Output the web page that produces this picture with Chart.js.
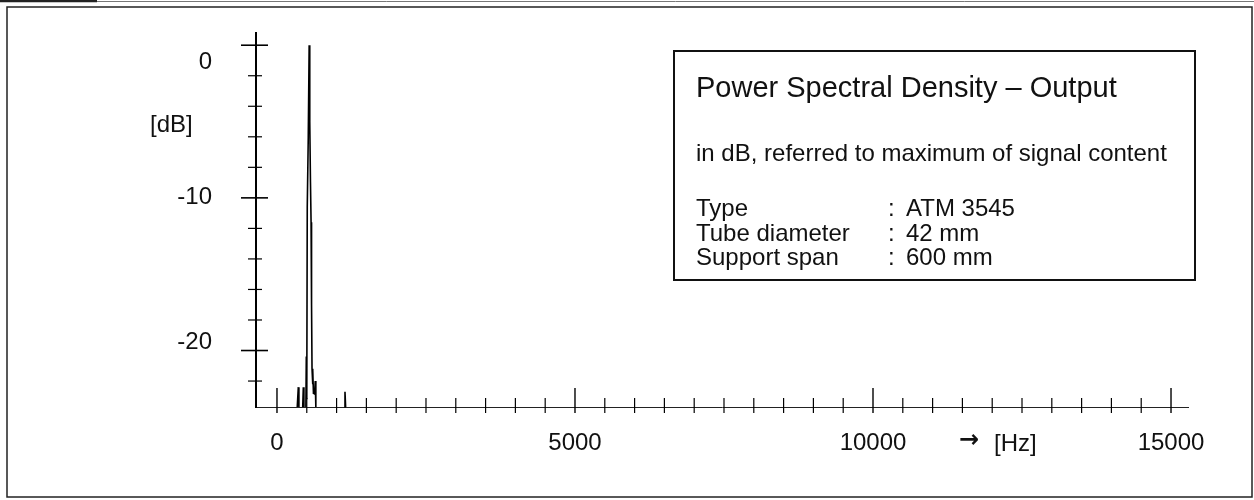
<!DOCTYPE html>
<html>
<head>
<meta charset="utf-8">
<script src="https://cdn.jsdelivr.net/npm/chart.js@4.4.0/dist/chart.umd.min.js"></script>
<style>
  html, body { margin: 0; padding: 0; background: #fff; }
  canvas { display: block; }
</style>
</head>
<body>
<canvas id="psdChart" width="1254" height="500"></canvas>
<script>
// Spectrum (Hz / dB); null breaks the trace between spikes
const freqHz = [340, 358, 368, 400, 432, 442, 452, 470, 485, 492, 500, 508, 525, 540, 550, 562, 572, 580, 588, 596, 604, 612, 620, 630, 642, 652, 700, 1130, 1141, 1152];
const psdDb  = [-23.7, -22.4, -23.7, null, -23.7, -22.4, -23.7, null, -23.7, -20.4, -23.2, -10.6, -6.0, 0, -5.0, -9.0, -11.6, -17.0, -21.2, -22.2, -21.3, -22.8, -22.5, -22.9, -22.0, -23.7, null, -23.7, -22.7, -23.7];

const yMajorTicks = [0, -10, -20];
const yMinorTicks = [-2, -4, -6, -8, -12, -14, -16, -18, -22];
const xMajorTicks = [0, 5000, 10000, 15000];
const xMinorTicks = [500, 1000, 1500, 2000, 2500, 3000, 3500, 4000, 4500, 5500, 6000, 6500, 7000, 7500, 8000, 8500, 9000, 9500, 10500, 11000, 11500, 12000, 12500, 13000, 13500, 14000, 14500];

const yUnit = "[dB]";
const xUnit = "[Hz]";
const infoTitle = "Power Spectral Density – Output";
const infoSubtitle = "in dB, referred to maximum of signal content";
const infoLabels = ["Type", "Tube diameter", "Support span"];
const infoValues = ["ATM 3545", "42 mm", "600 mm"];

const FONT = "'Liberation Sans', Arial, sans-serif";

document.addEventListener("DOMContentLoaded", function () {
  // frame, crossing tick marks, unit labels and the info box
  const paperDecor = {
    id: "paperDecor",
    afterDraw(chart) {
      const ctx = chart.ctx;
      const xs = chart.scales.x;
      const ys = chart.scales.y;
      const axX = chart.chartArea.left;
      const axY = chart.chartArea.bottom;
      ctx.save();

      // outer frame
      ctx.strokeStyle = "#222";
      ctx.lineWidth = 1.5;
      ctx.strokeRect(7, 7, 1245, 490);
      ctx.beginPath();
      ctx.lineWidth = 2.5;
      ctx.moveTo(0, 1); ctx.lineTo(97, 1);
      ctx.stroke();
      ctx.beginPath();
      ctx.strokeStyle = "#777";
      ctx.lineWidth = 1;
      ctx.moveTo(97, 1.5); ctx.lineTo(1254, 1.5);
      ctx.stroke();

      // y ticks cross the axis
      ctx.strokeStyle = "#000";
      yMajorTicks.forEach(v => {
        const p = ys.getPixelForValue(v);
        ctx.lineWidth = 1.6;
        ctx.beginPath(); ctx.moveTo(axX - 15, p); ctx.lineTo(axX + 12, p); ctx.stroke();
      });
      yMinorTicks.forEach(v => {
        const p = ys.getPixelForValue(v);
        ctx.lineWidth = 1.2;
        ctx.beginPath(); ctx.moveTo(axX - 8, p); ctx.lineTo(axX + 6, p); ctx.stroke();
      });
      // x ticks
      xMajorTicks.forEach(v => {
        const p = xs.getPixelForValue(v);
        ctx.lineWidth = 1.4;
        ctx.beginPath(); ctx.moveTo(p, axY - 19); ctx.lineTo(p, axY + 6); ctx.stroke();
      });
      xMinorTicks.forEach(v => {
        const p = xs.getPixelForValue(v);
        ctx.lineWidth = 1.2;
        ctx.beginPath(); ctx.moveTo(p, axY - 9); ctx.lineTo(p, axY + 6); ctx.stroke();
      });

      // y tick labels sit a little off their ticks on the original
      ctx.fillStyle = "#111";
      ctx.font = "24px " + FONT;
      ctx.textBaseline = "middle";
      ctx.textAlign = "right";
      const yLabelShift = [17, 0, -8];
      yMajorTicks.forEach((v, i) => {
        ctx.fillText(String(v), 212, ys.getPixelForValue(v) + yLabelShift[i]);
      });

      // units
      ctx.textAlign = "left";
      ctx.fillText(yUnit, 150, 125);
      ctx.fillText(xUnit, 994, 444);
      ctx.font = "bold 24px 'DejaVu Sans', sans-serif";
      ctx.textAlign = "right";
      ctx.fillText("\u2192", 979, 441);

      // info box
      ctx.fillStyle = "#fff";
      ctx.fillRect(674, 51, 521, 229);
      ctx.strokeStyle = "#111";
      ctx.lineWidth = 2;
      ctx.strokeRect(674, 51, 521, 229);
      ctx.fillStyle = "#111";
      ctx.textAlign = "left";
      ctx.textBaseline = "alphabetic";
      ctx.font = "29px " + FONT;
      ctx.fillText(infoTitle, 696, 97);
      ctx.font = "24px " + FONT;
      ctx.fillText(infoSubtitle, 696, 161);
      infoLabels.forEach((lbl, i) => {
        const by = 216 + i * 24.5;
        ctx.fillText(lbl, 696, by);
        ctx.fillText(":", 888, by);
        ctx.fillText(infoValues[i], 906, by);
      });
      ctx.restore();
    }
  };

  const chart = new Chart(document.getElementById("psdChart"), {
    type: "line",
    data: {
      datasets: [
        {
          data: freqHz.map((f, i) => ({ x: f, y: psdDb[i] })),
          borderColor: "#000",
          borderWidth: 1.6,
          pointRadius: 0,
          tension: 0,
          spanGaps: false,
          clip: false,
        },
      ],
    },
    options: {
      responsive: false,
      animation: false,
      layout: { padding: { top: 33, right: 66, bottom: 33, left: 0 } },
      plugins: {
        legend: { display: false },
        tooltip: { enabled: false },
      },
      scales: {
        x: {
          type: "linear",
          min: -352,
          max: 15285,
          afterBuildTicks: s => {
            s.ticks = xMajorTicks.concat(xMinorTicks).sort((a, b) => a - b).map(v => ({ value: v }));
          },
          afterFit: s => { s.height = 60; s.paddingLeft = 0; s.paddingRight = 0; },
          grid: { display: false, drawTicks: false },
          border: { display: true, color: "#222", width: 1, dash: [7, 3] },
          ticks: {
            autoSkip: false,
            maxRotation: 0,
            padding: 22,
            color: "#111",
            font: { family: FONT, size: 24 },
            callback: v => (xMajorTicks.includes(v) ? String(v) : ""),
          },
        },
        y: {
          type: "linear",
          min: -23.7,
          max: 0.8,
          afterBuildTicks: s => {
            s.ticks = yMajorTicks.concat(yMinorTicks).sort((a, b) => a - b).map(v => ({ value: v }));
          },
          afterFit: s => { s.width = 256; s.paddingTop = 0; s.paddingBottom = 0; },
          grid: { display: false, drawTicks: false },
          border: { display: true, color: "#000", width: 2 },
          ticks: {
            autoSkip: false,
            padding: 44,
            callback: () => "",
          },
        },
      },
    },
    plugins: [paperDecor],
  });
});
</script>
</body>
</html>
